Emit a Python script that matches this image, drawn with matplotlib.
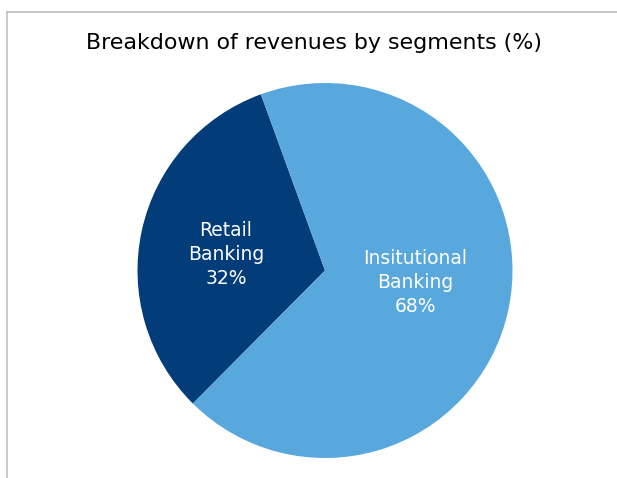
import matplotlib
matplotlib.use("Agg")
import matplotlib.pyplot as plt
from matplotlib.lines import Line2D

# Datos del grafico
segmentos = ["Retail\nBanking", "Insitutional\nBanking"]
porcentajes = [32, 68]
colores = ["#023d7a", "#58a8de"]
titulo = "Breakdown of revenues by segments (%)"

W, H = 617, 478
fig = plt.figure(figsize=(W / 100, H / 100), dpi=100)
ax = fig.add_axes([0, 0, 1, 1])

cx, cy = 325, H - 270.5
etiquetas = [f"{s}\n{p}%" for s, p in zip(segmentos, porcentajes)]
wedges, textos = ax.pie(porcentajes, labels=etiquetas, colors=colores,
                        startangle=110, counterclock=True,
                        center=(cx, cy), radius=187.5,
                        labeldistance=0.52, frame=True,
                        wedgeprops={"linewidth": 0})

# posicion de las etiquetas (desplazamiento desde el centro, en pixeles)
offsets = [(-99, 16), (90, -12)]
for t, (dx, dy) in zip(textos, offsets):
    t.set_position((cx + dx, cy + dy))
    t.set_ha("center")
    t.set_va("center")
    t.set_color("white")
    t.set_fontsize(13.5)
    t.set_linespacing(1.32)
ax.set_xlim(0, W)
ax.set_ylim(0, H)
ax.set_aspect("equal")
ax.axis("off")

# Titulo
fig.text(314 / W, 1 - 43 / H, titulo, ha="center", va="center", fontsize=15.9, color="black")

# Borde gris del recuadro
fig.add_artist(Line2D([7 / W, 1], [1 - 12 / H, 1 - 12 / H], color="#c0c0c0", lw=1.2))
fig.add_artist(Line2D([7 / W, 7 / W], [0, 1 - 12 / H], color="#c0c0c0", lw=1.2))

fig.savefig("out.png", dpi=100)
